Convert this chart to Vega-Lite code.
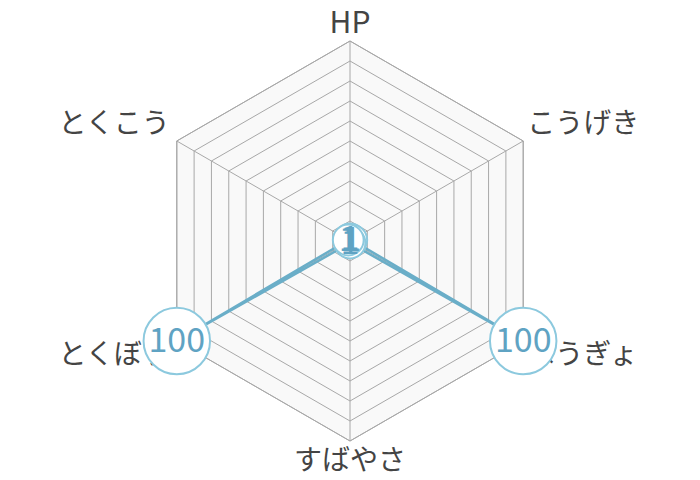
{
  "$schema": "https://vega.github.io/schema/vega-lite/v6.json",
  "width": 700,
  "height": 480,
  "padding": 0,
  "autosize": "none",
  "datasets": {
    "stats": [
      {"axis": "HP", "idx": 0, "value": 1},
      {"axis": "こうげき", "idx": 1, "value": 1},
      {"axis": "ぼうぎょ", "idx": 2, "value": 100},
      {"axis": "すばやさ", "idx": 3, "value": 1},
      {"axis": "とくぼう", "idx": 4, "value": 100},
      {"axis": "とくこう", "idx": 5, "value": 1}
    ],
    "rings": [
      {"level": 10, "v": [0, 1, 2, 3, 4, 5]},
      {"level": 9, "v": [0, 1, 2, 3, 4, 5]},
      {"level": 8, "v": [0, 1, 2, 3, 4, 5]},
      {"level": 7, "v": [0, 1, 2, 3, 4, 5]},
      {"level": 6, "v": [0, 1, 2, 3, 4, 5]},
      {"level": 5, "v": [0, 1, 2, 3, 4, 5]},
      {"level": 4, "v": [0, 1, 2, 3, 4, 5]},
      {"level": 3, "v": [0, 1, 2, 3, 4, 5]},
      {"level": 2, "v": [0, 1, 2, 3, 4, 5]},
      {"level": 1, "v": [0, 1, 2, 3, 4, 5]}
    ]
  },
  "encoding": {
    "x": {"field": "px", "type": "quantitative", "scale": {"domain": [-1.75, 1.75], "nice": false, "zero": false}, "axis": null},
    "y": {"field": "py", "type": "quantitative", "scale": {"domain": [-1.195, 1.205], "nice": false, "zero": false}, "axis": null}
  },
  "layer": [
    {
      "data": {"name": "rings"},
      "transform": [
        {"flatten": ["v"]},
        {"filter": "datum.level == 10"},
        {"calculate": "datum.level / 10 * sin(datum.v * PI / 3)", "as": "px"},
        {"calculate": "datum.level / 10 * cos(datum.v * PI / 3)", "as": "py"}
      ],
      "mark": {"type": "line", "interpolate": "linear-closed", "fill": "#f9f9f9", "stroke": "#a8a8a8", "strokeWidth": 1},
      "encoding": {"order": {"field": "v"}}
    },
    {
      "data": {"name": "rings"},
      "transform": [
        {"flatten": ["v"]},
        {"calculate": "datum.level / 10 * sin(datum.v * PI / 3)", "as": "px"},
        {"calculate": "datum.level / 10 * cos(datum.v * PI / 3)", "as": "py"}
      ],
      "mark": {"type": "line", "interpolate": "linear-closed", "stroke": "#a8a8a8", "strokeWidth": 1},
      "encoding": {"detail": {"field": "level"}, "order": {"field": "v"}}
    },
    {
      "data": {"name": "stats"},
      "transform": [
        {"calculate": "sin(datum.idx * PI / 3)", "as": "px"},
        {"calculate": "cos(datum.idx * PI / 3)", "as": "py"}
      ],
      "mark": {"type": "rule", "stroke": "#a8a8a8", "strokeWidth": 1},
      "encoding": {"x2": {"datum": 0}, "y2": {"datum": 0}}
    },
    {
      "data": {"name": "stats"},
      "transform": [
        {"filter": "datum.idx == 0"},
        {"calculate": "sin(datum.idx * PI / 3)", "as": "px"},
        {"calculate": "cos(datum.idx * PI / 3)", "as": "py"}
      ],
      "mark": {"type": "text", "font": "Noto Sans CJK JP", "fontSize": 30, "color": "#444444", "align": "center", "baseline": "bottom", "dy": -2},
      "encoding": {"text": {"field": "axis"}}
    },
    {
      "data": {"name": "stats"},
      "transform": [
        {"filter": "datum.idx == 3"},
        {"calculate": "sin(datum.idx * PI / 3)", "as": "px"},
        {"calculate": "cos(datum.idx * PI / 3)", "as": "py"}
      ],
      "mark": {"type": "text", "font": "Noto Sans CJK JP", "fontSize": 28, "color": "#444444", "align": "center", "baseline": "top", "dy": 7},
      "encoding": {"text": {"field": "axis"}}
    },
    {
      "data": {"name": "stats"},
      "transform": [
        {"filter": "datum.idx == 1"},
        {"calculate": "sin(datum.idx * PI / 3)", "as": "px"},
        {"calculate": "cos(datum.idx * PI / 3)", "as": "py"}
      ],
      "mark": {"type": "text", "font": "Noto Sans CJK JP", "fontSize": 28, "color": "#444444", "align": "left", "baseline": "bottom", "dx": 4, "dy": -2},
      "encoding": {"text": {"field": "axis"}}
    },
    {
      "data": {"name": "stats"},
      "transform": [
        {"filter": "datum.idx == 2"},
        {"calculate": "sin(datum.idx * PI / 3)", "as": "px"},
        {"calculate": "cos(datum.idx * PI / 3)", "as": "py"}
      ],
      "mark": {"type": "text", "font": "Noto Sans CJK JP", "fontSize": 28, "color": "#444444", "align": "left", "baseline": "top", "dx": 4, "dy": 1},
      "encoding": {"text": {"field": "axis"}}
    },
    {
      "data": {"name": "stats"},
      "transform": [
        {"filter": "datum.idx == 4"},
        {"calculate": "sin(datum.idx * PI / 3)", "as": "px"},
        {"calculate": "cos(datum.idx * PI / 3)", "as": "py"}
      ],
      "mark": {"type": "text", "font": "Noto Sans CJK JP", "fontSize": 28, "color": "#444444", "align": "right", "baseline": "top", "dx": -7, "dy": 1},
      "encoding": {"text": {"field": "axis"}}
    },
    {
      "data": {"name": "stats"},
      "transform": [
        {"filter": "datum.idx == 5"},
        {"calculate": "sin(datum.idx * PI / 3)", "as": "px"},
        {"calculate": "cos(datum.idx * PI / 3)", "as": "py"}
      ],
      "mark": {"type": "text", "font": "Noto Sans CJK JP", "fontSize": 28, "color": "#444444", "align": "right", "baseline": "bottom", "dx": -7, "dy": -2},
      "encoding": {"text": {"field": "axis"}}
    },
    {
      "data": {"name": "stats"},
      "transform": [
        {"calculate": "datum.value / 100 * sin(datum.idx * PI / 3)", "as": "px"},
        {"calculate": "datum.value / 100 * cos(datum.idx * PI / 3)", "as": "py"}
      ],
      "mark": {"type": "line", "interpolate": "linear-closed", "stroke": "#6aaec8", "strokeWidth": 2.5},
      "encoding": {"order": {"field": "idx"}}
    },
    {
      "data": {"name": "stats"},
      "transform": [
        {"calculate": "datum.value / 100 * sin(datum.idx * PI / 3)", "as": "px"},
        {"calculate": "datum.value / 100 * cos(datum.idx * PI / 3)", "as": "py"}
      ],
      "mark": {"type": "point", "shape": "circle", "filled": true, "fill": "#ffffff", "fillOpacity": 1, "opacity": 1, "stroke": "#8cc9de", "strokeWidth": 2},
      "encoding": {
        "size": {"field": "value", "type": "quantitative", "scale": {"domain": [1, 100], "range": [950, 4420]}, "legend": null}
      }
    },
    {
      "data": {"name": "stats"},
      "transform": [
        {"calculate": "datum.value / 100 * sin(datum.idx * PI / 3)", "as": "px"},
        {"calculate": "datum.value / 100 * cos(datum.idx * PI / 3)", "as": "py"}
      ],
      "mark": {"type": "text", "font": "Noto Sans CJK JP", "fontSize": 34, "color": "#5fa3c3", "baseline": "middle", "align": "center", "dy": 1},
      "encoding": {"text": {"field": "value"}}
    }
  ],
  "config": {"view": {"stroke": null}}
}
